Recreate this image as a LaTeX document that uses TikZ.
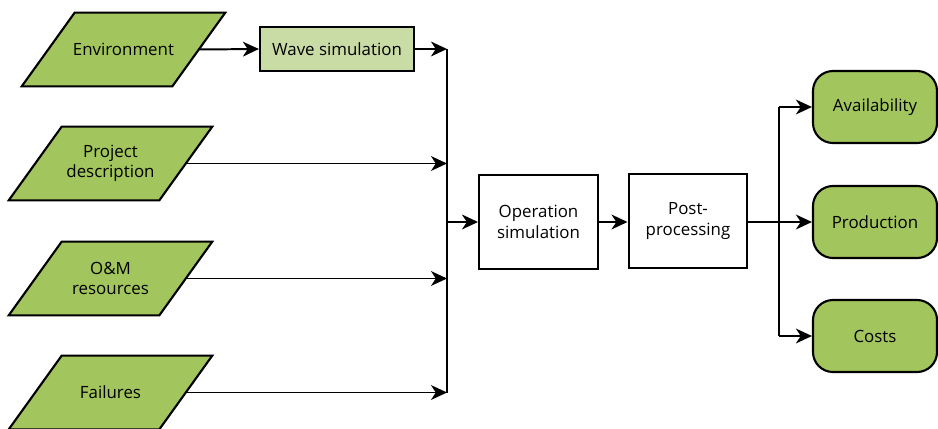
\documentclass[tikz,border=0pt]{standalone}
\usepackage{fontspec}
\setmainfont{Open Sans}
\usepackage{tikz}
\usetikzlibrary{arrows.meta,positioning,calc,shapes.geometric,backgrounds}
\definecolor{LeafGreen}{HTML}{A2C55D}
\definecolor{PaleGreen}{HTML}{C9DCA5}

\begin{document}
\begin{tikzpicture}[x=0.025cm, y=-0.025cm,
    every node/.style={font=\fontsize{12}{14.5}\selectfont, align=center},
    inputbox/.style={rectangle, minimum width=3.75cm, minimum height=1.83cm, inner sep=0pt},
    slantbox/.style={draw, line width=1.5pt, fill=LeafGreen, line join=miter},
    procbox/.style={rectangle, draw, line width=1.5pt, fill=white,
      minimum width=2.97cm, minimum height=2.35cm},
    resultbox/.style={rectangle, rounded corners=0.5cm, draw, line width=1.5pt,
      fill=LeafGreen, minimum width=3.1cm, minimum height=1.8cm},
    flow/.style={line width=1.4pt},
    arrowflow/.style={flow, -{Stealth[length=4mm, width=3.7mm, inset=1.2mm]}}]
  \useasboundingbox (0,0) rectangle (938,428);
  % inputs
  \node[inputbox] (env) at (123.5,49.5) {Environment};
  \node[inputbox] (proj) at (110.5,163.5) {Project\\description};
  \node[inputbox] (om) at (110.5,278.5) {O\&M\\resources};
  \node[inputbox] (fail) at (110.5,392.5) {Failures};
  \begin{scope}[on background layer]
    \foreach \n in {env,proj,om,fail}
      \draw[slantbox] ($(\n.north west)+(26.5,0)$) -- ($(\n.north east)+(26.5,0)$)
        -- ($(\n.south east)+(-26.5,0)$) -- ($(\n.south west)+(-26.5,0)$) -- cycle;
  \end{scope}
  \node[rectangle, draw, line width=1.5pt, fill=PaleGreen, minimum width=3.85cm,
    minimum height=1.1cm] (wave) at (337,49) {Wave simulation};
  % processing
  \node[procbox] (op) at (538.5,222) {Operation\\simulation};
  \node[procbox] (post) at (688,221) {Post-\\processing};
  % outputs
  \node[resultbox] (avail) at (875,107) {Availability};
  \node[resultbox] (prod) at (875,222) {Production};
  \node[resultbox] (costs) at (875,336) {Costs};
  \coordinate (bustop) at (447,49);
  \coordinate (busbot) at (447,392.5);
  \coordinate (split) at (779,222);
  \draw[arrowflow] (env.east) -- (wave.west);
  \draw[arrowflow] (wave.east) -- (bustop);
  \foreach \src in {proj,om,fail}
    \draw[arrowflow] (\src.east) -- (\src.east -| bustop);
  \draw[flow] (bustop) -- (busbot);
  \draw[arrowflow] (op.west -| bustop) -- (op.west);
  \draw[arrowflow] (op.east) -- (op.east -| post.west);
  \draw[flow] (post.east |- split) -- (split);
  \draw[flow] (avail.west -| split) -- (costs.west -| split);
  \foreach \dst in {avail,prod,costs}
    \draw[arrowflow] (\dst.west -| split) -- (\dst.west);
\end{tikzpicture}
\end{document}
